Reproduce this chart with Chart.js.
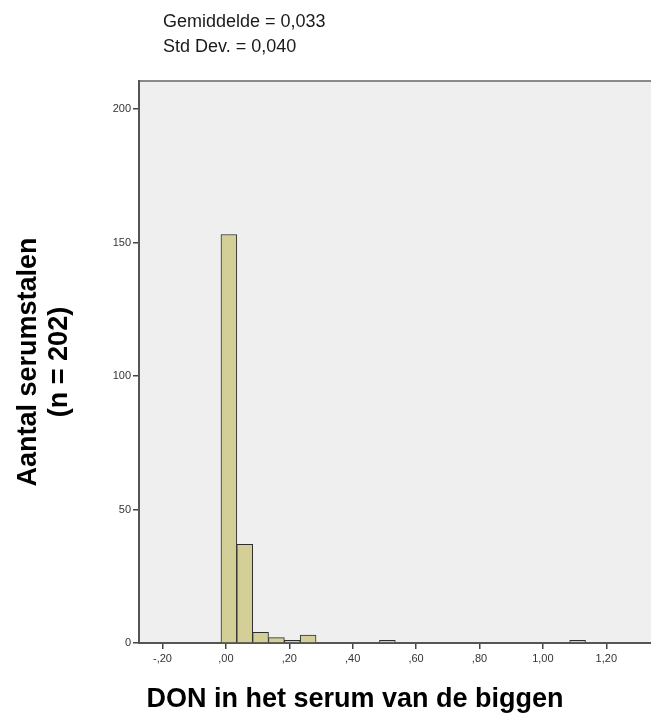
<!DOCTYPE html>
<html>
<head>
<meta charset="utf-8">
<script src="https://cdn.jsdelivr.net/npm/chart.js@4.4.1/dist/chart.umd.min.js"></script>
<style>
  html, body { margin: 0; padding: 0; background: #ffffff; overflow: hidden; }
  #wrap { position: relative; width: 651px; height: 718px; }
</style>
</head>
<body>
<div id="wrap"><canvas id="c" width="651" height="718"></canvas></div>
<script>
// ---- data ----
const binCenters = [0.0095, 0.0595, 0.1095, 0.1595, 0.2095, 0.2595, 0.5095, 1.1095];
const binCounts  = [153, 37, 4, 2, 1, 3, 1, 1];
const statsLines = ["Gemiddelde = 0,033", "Std Dev. = 0,040"];
const xTitle = "DON in het serum van de biggen";
const yTitleLines = ["Aantal serumstalen", "(n = 202)"];
const xRange = [-0.274, 1.341];
const yRange = [0, 210.5];

function fmtTick(v) {
  const r = Math.round(v * 100) / 100;
  let s = Math.abs(r).toFixed(2).replace('.', ',');
  if (Math.abs(r) < 1) s = s.replace(/^0/, '');
  return (r < 0 ? '-' : '') + s;
}

const decor = {
  id: 'decor',
  beforeDraw(chart) {
    const { ctx, chartArea: a } = chart;
    ctx.save();
    ctx.fillStyle = '#efefef';
    ctx.fillRect(a.left, a.top, a.right - a.left, a.bottom - a.top);
    ctx.strokeStyle = '#8a8a8a';
    ctx.lineWidth = 2;
    ctx.beginPath();
    ctx.moveTo(a.left, a.top);
    ctx.lineTo(a.right + 2, a.top);
    ctx.stroke();
    ctx.restore();
  },
  afterDraw(chart) {
    const { ctx, chartArea: a } = chart;
    ctx.save();
    ctx.fillStyle = '#1a1a1a';
    ctx.font = '18px "Liberation Sans", Arial, sans-serif';
    ctx.textAlign = 'left';
    ctx.textBaseline = 'alphabetic';
    ctx.fillText(statsLines[0], 163, 27);
    ctx.fillText(statsLines[1], 163, 52);

    ctx.fillStyle = '#000000';
    ctx.font = 'bold 27px "Liberation Sans", Arial, sans-serif';
    ctx.textAlign = 'center';
    ctx.fillText(xTitle, 355, 707);

    const cy = (a.top + a.bottom) / 2;
    ctx.translate(0, cy);
    ctx.rotate(-Math.PI / 2);
    ctx.fillText(yTitleLines[0], 0, 36);
    ctx.fillText(yTitleLines[1], 0, 67);
    ctx.restore();
  }
};

new Chart(document.getElementById('c'), {
  type: 'bar',
  data: {
    datasets: [{
      data: binCenters.map((x, i) => ({ x: x, y: binCounts[i] })),
      backgroundColor: '#d3cf96',
      borderColor: '#2e2e2e',
      borderWidth: 1,
      barPercentage: 1,
      categoryPercentage: 1
    }]
  },
  options: {
    responsive: false,
    devicePixelRatio: 1,
    animation: false,
    layout: { padding: { left: 0, right: 0, top: 81, bottom: 0 } },
    plugins: { legend: { display: false }, tooltip: { enabled: false } },
    scales: {
      x: {
        type: 'linear',
        offset: false,
        min: xRange[0], max: xRange[1],
        afterFit: s => { s.height = 75; },
        grid: { display: true, offset: false, drawOnChartArea: false, drawTicks: true, tickLength: 6, color: '#444', lineWidth: 1.5 },
        border: { display: true, color: '#555', width: 2 },
        ticks: {
          stepSize: 0.2, includeBounds: false, maxRotation: 0, autoSkip: false,
          padding: 3, color: '#333',
          font: { family: '"Liberation Sans", Arial, sans-serif', size: 11 },
          callback: v => fmtTick(v)
        }
      },
      y: {
        type: 'linear',
        min: yRange[0], max: yRange[1],
        afterFit: s => { s.width = 139; },
        grid: { display: true, drawOnChartArea: false, drawTicks: true, tickLength: 6, color: '#444', lineWidth: 1.5 },
        border: { display: true, color: '#555', width: 2 },
        ticks: {
          stepSize: 50, includeBounds: false, padding: 2, color: '#333',
          font: { family: '"Liberation Sans", Arial, sans-serif', size: 11 },
          callback: v => String(v)
        }
      }
    }
  },
  plugins: [decor]
});
</script>
</body>
</html>
